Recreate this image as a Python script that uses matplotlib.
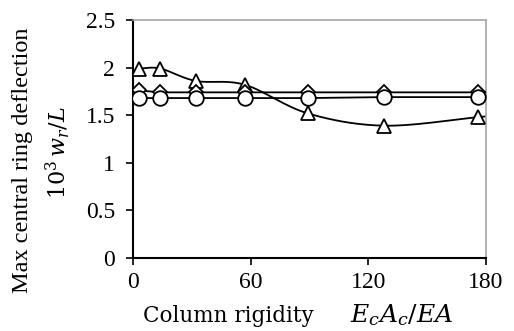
import numpy as np
import matplotlib
matplotlib.use("Agg")
import matplotlib.pyplot as plt

plt.rcParams['mathtext.fontset'] = 'custom'
plt.rcParams['mathtext.rm'] = 'DejaVu Serif'
plt.rcParams['mathtext.it'] = 'DejaVu Serif:italic'
plt.rcParams['font.family'] = 'Liberation Serif'

# data (last point lies beyond the axis limit and is clipped, as in the reference)
x_vals = [3, 14, 32, 57, 89, 128, 176, 200]
tri_vals = [1.99, 1.99, 1.86, 1.82, 1.52, 1.39, 1.48, 1.53]
dia_vals = [1.76, 1.74, 1.74, 1.74, 1.74, 1.74, 1.74, 1.74]
cir_vals = [1.68, 1.68, 1.68, 1.68, 1.68, 1.69, 1.69, 1.69]

x_ticks = [0, 60, 120, 180]
y_ticks = [0, 0.5, 1, 1.5, 2, 2.5]
y_tick_labels = ['0', '0.5', '1', '1.5', '2', '2.5']

W, H = 514, 331


def catmull_rom(xs, ys, n=30):
    xs = np.asarray(xs, float); ys = np.asarray(ys, float)
    P = np.column_stack([xs, ys])
    P = np.vstack([P[0] - (P[1] - P[0]), P, P[-1] + (P[-1] - P[-2])])
    out = []
    for i in range(1, len(P) - 2):
        p0, p1, p2, p3 = P[i - 1], P[i], P[i + 1], P[i + 2]
        t = np.linspace(0, 1, n)[:, None]
        seg = 0.5 * ((2 * p1) + (-p0 + p2) * t + (2 * p0 - 5 * p1 + 4 * p2 - p3) * t ** 2
                     + (-p0 + 3 * p1 - 3 * p2 + p3) * t ** 3)
        out.append(seg)
    out = np.vstack(out)
    return out[:, 0], out[:, 1]


fig = plt.figure(figsize=(W / 100, H / 100), dpi=100)
ax = fig.add_axes([133 / W, 1 - 258 / H, 353 / W, 238 / H])

n_mark = len(x_vals) - 1
mk = dict(mfc='white', mec='black', mew=1.3)
sx, sy = catmull_rom(x_vals, tri_vals)
ax.plot(sx, sy, color='black', lw=1.3, zorder=2)
ax.plot(x_vals[:n_mark], tri_vals[:n_mark], ls='none', marker='^', ms=10.5, zorder=3, **mk)
ax.plot(x_vals, dia_vals, color='black', lw=1.3, marker='D', ms=7.5, markevery=list(range(n_mark)), zorder=3, **mk)
ax.plot(x_vals, cir_vals, color='black', lw=1.3, marker='o', ms=10.5, markevery=list(range(n_mark)), zorder=3, **mk)

ax.set_xlim(0, 180)
ax.set_ylim(0, 2.5)
ax.set_xticks(x_ticks)
ax.set_yticks(y_ticks)
ax.set_yticklabels(y_tick_labels)
ax.tick_params(axis='both', direction='out', length=5, width=1.2, labelsize=17, colors='black')
ax.tick_params(axis='x', pad=5)
ax.tick_params(axis='y', pad=8)

for s in ['left', 'bottom']:
    ax.spines[s].set_color('black')
    ax.spines[s].set_linewidth(1.5)
for s in ['top', 'right']:
    ax.spines[s].set_color('#a6a6a6')
    ax.spines[s].set_linewidth(1.2)

# y-axis title (two lines)
fig.text(23 / W, 1 - 160 / H, 'Max central ring deflection', rotation=90,
         ha='center', va='center', fontsize=17.5)
fig.text(58 / W, 1 - 153 / H, '$10^3\\, w_r/L$', rotation=90,
         ha='center', va='center', fontsize=16)

# x-axis title
fig.text(143 / W, 1 - 322 / H, 'Column rigidity', ha='left', va='baseline',
         fontsize=15.5, family='DejaVu Serif')
fig.text(350 / W, 1 - 322 / H, '$E_cA_c/EA$', ha='left', va='baseline', fontsize=18)

fig.savefig('out.png', dpi=100)
